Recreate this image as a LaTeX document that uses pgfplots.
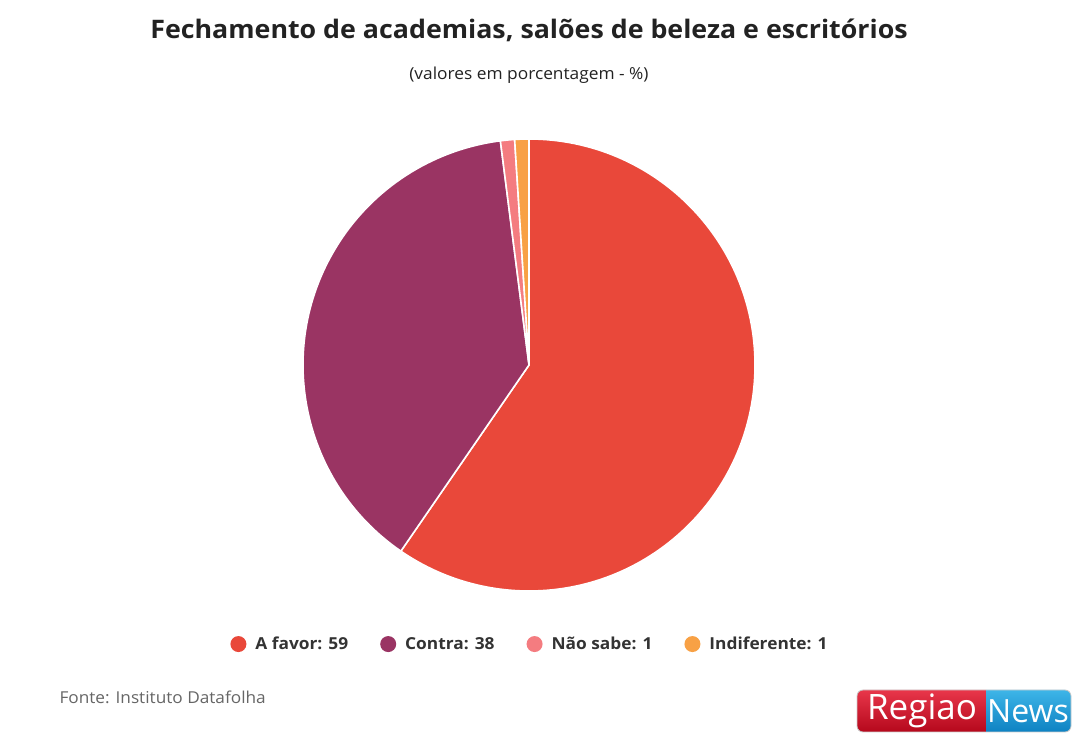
\documentclass[border=0pt]{standalone}
\usepackage{pgfplots}
\pgfplotsset{compat=1.18}
\usepackage{pgfplotstable}
\usepackage{fontspec}
\setmainfont[FakeStretch=1.05]{Open Sans}
\newfontfamily\logofont{Open Sans}
\definecolor{slice0}{HTML}{E9483A}
\definecolor{slice1}{HTML}{9A3463}
\definecolor{slice2}{HTML}{F47C80}
\definecolor{slice3}{HTML}{F8A145}
\definecolor{titlecol}{HTML}{222222}
\definecolor{legcol}{HTML}{333333}
\definecolor{srccol}{HTML}{666666}
\definecolor{logored1}{HTML}{E8364A}
\definecolor{logored2}{HTML}{B5081C}
\definecolor{logoblue1}{HTML}{3DB5E8}
\definecolor{logoblue2}{HTML}{0E82C2}

\pgfplotstableread[col sep=comma]{
label,value
A favor,59
Contra,38
Não sabe,1
Indiferente,1
}\piedata

\begin{document}
\begin{tikzpicture}
\fill[white] (0bp,0bp) rectangle (1080bp,743bp);
\node[font=\fontsize{25.5bp}{30bp}\selectfont\bfseries, text=titlecol] at (529bp,713bp) {Fechamento de academias, salões de beleza e escritórios};
\node[font=\fontsize{16.5bp}{19bp}\selectfont, text=titlecol] at (529bp,668bp) {(valores em porcentagem - \%)};
\node[font=\fontsize{16.4bp}{19bp}\selectfont, text=srccol, anchor=west] at (56bp,46bp) {Fonte: Instituto Datafolha};

\begin{axis}[
  at={(529bp,378bp)}, anchor=origin,
  x=226bp, y=226bp,
  xmin=-1.05, xmax=1.05, ymin=-1.05, ymax=1.05,
  hide axis,
  legend columns=4,
  legend style={draw=none, fill=none, at={(0.502,-0.088)}, anchor=center,
    font=\fontsize{16.5bp}{19bp}\selectfont\bfseries, text=legcol,
    /tikz/every even column/.append style={column sep=30bp}},
]
\pgfplotstablegetrowsof{\piedata}
\pgfmathtruncatemacro\nrows{\pgfplotsretval-1}
\def\total{0}
\pgfplotsforeachungrouped \i in {0,...,\nrows}{%
  \pgfplotstablegetelem{\i}{value}\of\piedata
  \pgfmathsetmacro\total{\total+\pgfplotsretval}%
}
\def\ang{90}
\pgfplotsforeachungrouped \i in {0,...,\nrows}{%
  \pgfplotstablegetelem{\i}{value}\of\piedata
  \pgfmathsetmacro\endang{\ang-\pgfplotsretval/\total*360}%
  \edef\cmd{\noexpand\fill[fill=slice\i, draw=white, line width=1.6bp, line join=round]
    (axis cs:0,0) -- (axis cs:{cos(\ang)},{sin(\ang)})
    arc[start angle=\ang, end angle=\endang, radius=226bp] -- cycle;}%
  \cmd
  \global\let\ang\endang
}
\addlegendimage{legend image code/.code={\path[draw=none,fill=none] (-8bp,-8bp) rectangle (15bp,8bp); \fill[slice0, draw=none] (0bp,0bp) circle (8bp);}}
\addlegendentry{A favor: 59}
\addlegendimage{legend image code/.code={\path[draw=none,fill=none] (-8bp,-8bp) rectangle (15bp,8bp); \fill[slice1, draw=none] (0bp,0bp) circle (8bp);}}
\addlegendentry{Contra: 38}
\addlegendimage{legend image code/.code={\path[draw=none,fill=none] (-8bp,-8bp) rectangle (15bp,8bp); \fill[slice2, draw=none] (0bp,0bp) circle (8bp);}}
\addlegendentry{Não sabe: 1}
\addlegendimage{legend image code/.code={\path[draw=none,fill=none] (-8bp,-8bp) rectangle (15bp,8bp); \fill[slice3, draw=none] (0bp,0bp) circle (8bp);}}
\addlegendentry{Indiferente: 1}
\end{axis}

% logo
\begin{scope}
\clip[rounded corners=6bp] (857bp,11bp) rectangle (1071bp,53bp);
\fill[top color=logored1, bottom color=logored2] (857bp,11bp) rectangle (986bp,53bp);
\fill[top color=logoblue1, bottom color=logoblue2] (986bp,11bp) rectangle (1071bp,53bp);
\end{scope}
\draw[gray!40, rounded corners=6bp, line width=0.8bp] (857bp,11bp) rectangle (1071bp,53bp);
\node[font=\logofont\fontsize{35bp}{38bp}\selectfont, text=white] at (922bp,32bp) {Regiao};
\node[font=\logofont\fontsize{32bp}{36bp}\selectfont, text=white] at (1028bp,32bp) {News};
\end{tikzpicture}
\end{document}
